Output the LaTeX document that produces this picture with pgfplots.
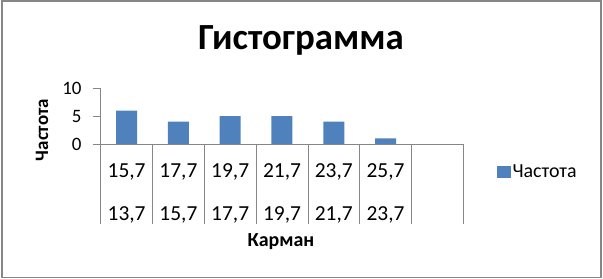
\documentclass[border=0pt]{standalone}
\usepackage{fontspec}
\setmainfont{Carlito}
\usepackage{pgfplots}
\pgfplotsset{compat=1.18}
\definecolor{barblue}{HTML}{4F81BD}
\definecolor{axgray}{HTML}{868686}
\begin{document}
\begin{tikzpicture}
\path[use as bounding box] (0,0) rectangle (603bp,279bp);
\draw[axgray, line width=1.5bp] (2bp,1.5bp) rectangle (601bp,278bp);
\begin{axis}[
  name=ax,
  at={(100.7bp,135bp)}, anchor=south west,
  scale only axis,
  width=362.6bp, height=55.7bp,
  xmin=-0.5, xmax=6.5, ymin=0, ymax=10,
  axis x line*=bottom, axis y line*=left,
  axis line style={axgray, line width=0.8bp},
  tick align=outside,
  major tick length=8bp,
  ytick={0,5,10},
  ytick style={axgray, line width=0.8bp},
  /pgf/number format/assume math mode=true,
  yticklabel style={font=\fontsize{19}{19}\selectfont, inner sep=0pt, xshift=-11bp},
  xtick={0,1,2,3,4,5,6},
  xticklabels={{15,7},{17,7},{19,7},{21,7},{23,7},{25,7},{}},
  xtick style={draw=none},
  xticklabel style={font=\fontsize{21.5}{21.5}\selectfont, anchor=center, yshift=-20bp},
  extra x ticks={0,1,2,3,4,5},
  extra x tick labels={{13,7},{15,7},{17,7},{19,7},{21,7},{23,7}},
  extra x tick style={tick style={draw=none}, xticklabel style={yshift=-43bp}},
  xlabel={Карман},
  xlabel style={font=\bfseries\fontsize{20}{20}\selectfont, at={(axis description cs:0.497,-1.76)}, anchor=center},
  ylabel={Частота},
  ylabel style={font=\bfseries\fontsize{19}{19}\selectfont, at={(axis description cs:-0.162,0.251)}, anchor=center, rotate=0},
  legend style={at={(axis description cs:1.093,-0.5)}, anchor=west, draw=none, fill=none,
    font=\fontsize{20}{20}\selectfont, inner sep=0pt},
  clip=false,
]
\addplot[ybar, fill=barblue, draw=none, bar width=21bp,
  legend image code/.code={\fill[barblue] (0bp,-5.7bp) rectangle (13.3bp,5.7bp);}]
  coordinates {(0,6) (1,4) (2,5) (3,5) (4,4) (5,1)};
\addlegendentry{Частота}
\end{axis}
\foreach \i in {0,...,7} \draw[axgray, line width=0.8bp] ([xshift=\i*51.8bp]ax.south west) -- ++(0,-80bp);
\node[font=\bfseries\fontsize{37}{37}\selectfont, anchor=base] at (301bp,229bp) {Гистограмма};
\end{tikzpicture}
\end{document}
